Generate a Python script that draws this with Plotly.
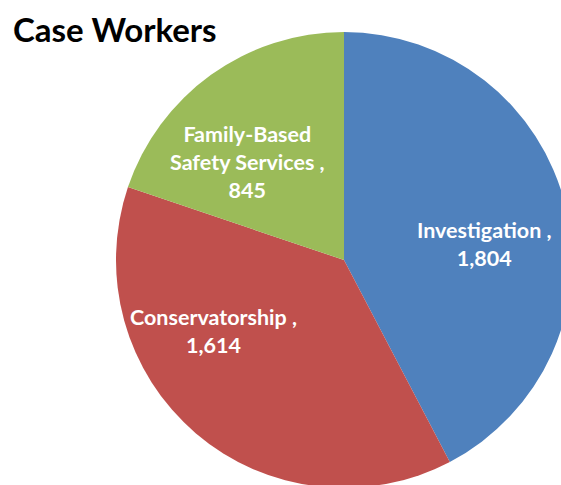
import plotly.graph_objects as go

categories = ["Investigation", "Conservatorship", "Family-Based<br>Safety Services"]
values = [1804, 1614, 845]
colors = ["#4F81BD", "#C0504D", "#9BBB59"]
title_text = "Case Workers"

W, H = 580, 495
# pie box in pixels (left, right, top, bottom)
px_l, px_r, px_t, px_b = 116, 572, 32, 488
# label centres in pixels (layout only)
label_pos = [(484, 244), (213, 331), (247, 162)]

fig = go.Figure(go.Pie(
    labels=categories,
    values=values,
    sort=False,
    direction="clockwise",
    rotation=0,
    marker=dict(colors=colors, line=dict(width=0)),
    textinfo="none",
    hoverinfo="label+value",
    showlegend=False,
    domain=dict(x=[px_l / W, px_r / W], y=[(H - px_b) / H, (H - px_t) / H]),
))

annotations = [dict(
    text="<b>" + title_text + "</b>",
    xref="paper", yref="paper",
    x=11 / W, y=1 - 7 / H, xanchor="left", yanchor="top",
    showarrow=False,
    font=dict(family="Lato", size=33, color="black"),
)]
for cat, val, (lx, ly) in zip(categories, values, label_pos):
    annotations.append(dict(
        text="<b>" + cat + " ,<br>" + f"{val:,}" + "</b>",
        xref="paper", yref="paper",
        x=lx / W, y=1 - ly / H, xanchor="center", yanchor="middle",
        showarrow=False, align="center",
        font=dict(family="Lato", size=21.5, color="white"),
    ))

fig.update_layout(
    width=W, height=H,
    margin=dict(l=0, r=0, t=0, b=0),
    paper_bgcolor="white",
    plot_bgcolor="white",
    annotations=annotations,
)

fig.write_html(
    "out.html",
    config={"displayModeBar": False},
    post_script="document.body.style.margin='0';document.body.style.overflow='hidden';document.documentElement.style.overflow='hidden';",
)
